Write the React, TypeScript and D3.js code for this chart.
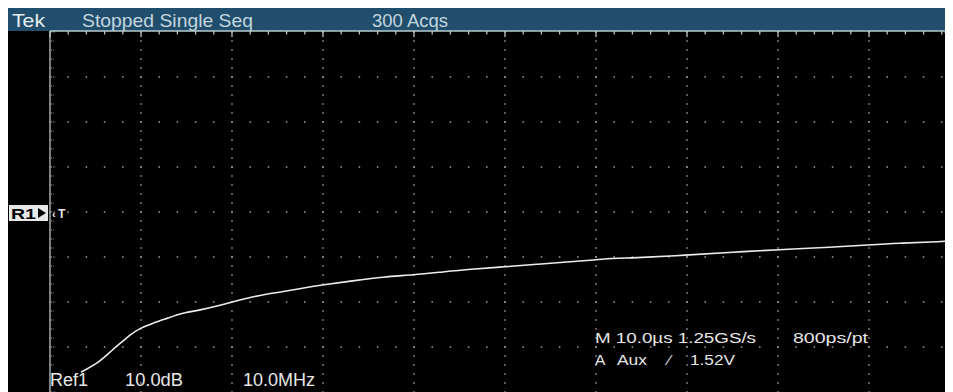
import React from "react";
import * as d3 from "d3";

// Trace: Ref1 frequency response (10.0 MHz/div, 10.0 dB/div)
const freqMHz = [3.4, 5.5, 6.8, 7.9, 8.8, 9.9, 11.3, 12.9, 14.6, 16.5, 18.4, 20.0, 21.7, 23.9, 25.3, 27.8, 29.9, 33.3, 36.6, 39.9, 43.2, 46.2, 49.9, 53.5, 57.1, 60.8, 64.1, 69.9, 75.1, 79.9, 86.0, 89.9, 93.4, 97.0, 99.2];
const levelDb = [-35.6, -33.3, -30.7, -28.9, -27.3, -25.8, -24.7, -23.6, -22.4, -21.8, -20.9, -20.0, -19.1, -18.2, -17.8, -16.9, -16.2, -15.3, -14.4, -14.0, -13.3, -12.7, -12.2, -11.6, -11.1, -10.4, -10.2, -9.6, -8.9, -8.4, -7.8, -7.3, -6.9, -6.7, -6.4];

const xMajor = d3.range(0, 101, 10);
const xMinor = d3.range(0, 101, 2);
const yMajor = d3.range(-40, 41, 10);
const yMinor = d3.range(-40, 41, 2);

const headerTexts = ["Tek", "Stopped Single Seq", "300 Acqs"];
const refLabel = "Ref1";
const scaleLabel = "10.0dB";
const spanLabel = "10.0MHz";
const timebase = "M 10.0µs 1.25GS/s";
const resolution = "800ps/pt";
const trigParts = ["A", "Aux", "⁄", "1.52V"];

export default function App() {
  const x = d3.scaleLinear().domain([0, 100]).range([50, 960]);
  const y = d3.scaleLinear().domain([-40, 40]).range([392, 32]);
  const pts: [number, number][] = freqMHz.map((f, i) => [x(f), y(levelDb[i])]);
  const line = d3.line().curve(d3.curveBasis)(pts) || "";
  const font = "'Liberation Sans', Arial, sans-serif";
  const dotCol = "#a0a0a0";

  const dots: React.ReactNode[] = [];
  xMajor.slice(1).forEach((xv) => {
    yMinor.forEach((yv) => {
      dots.push(<rect key={`v${xv}_${yv}`} x={x(xv) - 0.75} y={y(yv) - 0.75} width={1.5} height={1.5} fill={dotCol} />);
    });
  });
  yMajor.slice(1, -1).forEach((yv) => {
    xMinor.forEach((xv) => {
      dots.push(<rect key={`h${xv}_${yv}`} x={x(xv) - 0.75} y={y(yv) - 0.75} width={1.5} height={1.5} fill={dotCol} />);
    });
  });

  return (
    <svg width={945} height={384} viewBox="8 8 945 384" style={{ display: "block" }}>
      <rect x={8} y={8} width={945} height={384} fill="#000" />
      <rect x={8} y={8} width={945} height={23} fill="#214e6d" />
      <text x={12} y={27} fill="#e2ecf0" fontFamily={font} fontSize={19} textLength={33} lengthAdjust="spacingAndGlyphs">{headerTexts[0]}</text>
      <text x={82} y={27} fill="#c4d6df" fontFamily={font} fontSize={19} textLength={171} lengthAdjust="spacingAndGlyphs">{headerTexts[1]}</text>
      <text x={372} y={27} fill="#c4d6df" fontFamily={font} fontSize={19} textLength={76} lengthAdjust="spacingAndGlyphs">{headerTexts[2]}</text>

      {dots}

      <line x1={50} x2={50} y1={31} y2={392} stroke="#a0a8a8" strokeWidth={1.5} />
      {yMinor.map((yv) => (
        <line key={`lt${yv}`} x1={51} x2={yMajor.includes(yv) ? 56 : 54} y1={y(yv)} y2={y(yv)} stroke={dotCol} strokeWidth={1.2} strokeDasharray="1.2 1.2" />
      ))}
      <line x1={50} x2={953} y1={31} y2={31} stroke="#b4cccc" strokeWidth={1.5} />
      {xMinor.map((xv) => (
        <line key={`tt${xv}`} x1={x(xv)} x2={x(xv)} y1={31} y2={xMajor.includes(xv) ? 37 : 34.5} stroke="#b8c8c8" strokeWidth={1.3} />
      ))}

      <path d="M944,32 L953,32 L953,42 Z" fill="#e8913c" />

      {/* R1 marker */}
      <rect x={9} y={205} width={39} height={16} fill="#e8e8e8" />
      <text x={11} y={219} fill="#000" fontFamily={font} fontWeight="bold" fontSize={15} textLength={25} lengthAdjust="spacingAndGlyphs">R1</text>
      <path d="M38,208 L46,213 L38,218 Z" fill="#000" />
      <text x={52} y={218} fill="#e8e8e8" fontFamily={font} fontWeight="bold" fontSize={11}>‹</text>
      <text x={58} y={218} fill="#e8e8e8" fontFamily={font} fontWeight="bold" fontSize={12}>T</text>

      <path d={line} fill="none" stroke="#ececec" strokeWidth={1.6} />

      <text x={50} y={386} fill="#e6e6e6" fontFamily={font} fontSize={18} textLength={38} lengthAdjust="spacingAndGlyphs">{refLabel}</text>
      <text x={125} y={386} fill="#e6e6e6" fontFamily={font} fontSize={18} textLength={58} lengthAdjust="spacingAndGlyphs">{scaleLabel}</text>
      <text x={243} y={386} fill="#e6e6e6" fontFamily={font} fontSize={18} textLength={72} lengthAdjust="spacingAndGlyphs">{spanLabel}</text>
      <text x={595} y={343} fill="#e6e6e6" fontFamily={font} fontSize={15.5} textLength={161} lengthAdjust="spacingAndGlyphs">{timebase}</text>
      <text x={793} y={343} fill="#e6e6e6" fontFamily={font} fontSize={15.5} textLength={75} lengthAdjust="spacingAndGlyphs">{resolution}</text>
      <text x={595} y={365} fill="#e6e6e6" fontFamily={font} fontSize={15.5}>{trigParts[0]}</text>
      <text x={617} y={365} fill="#e6e6e6" fontFamily={font} fontSize={15.5} textLength={30} lengthAdjust="spacingAndGlyphs">{trigParts[1]}</text>
      <text x={668} y={365} fill="#e6e6e6" fontFamily={font} fontSize={15.5}>{trigParts[2]}</text>
      <text x={690} y={365} fill="#e6e6e6" fontFamily={font} fontSize={15.5} textLength={45} lengthAdjust="spacingAndGlyphs">{trigParts[3]}</text>
    </svg>
  );
}
